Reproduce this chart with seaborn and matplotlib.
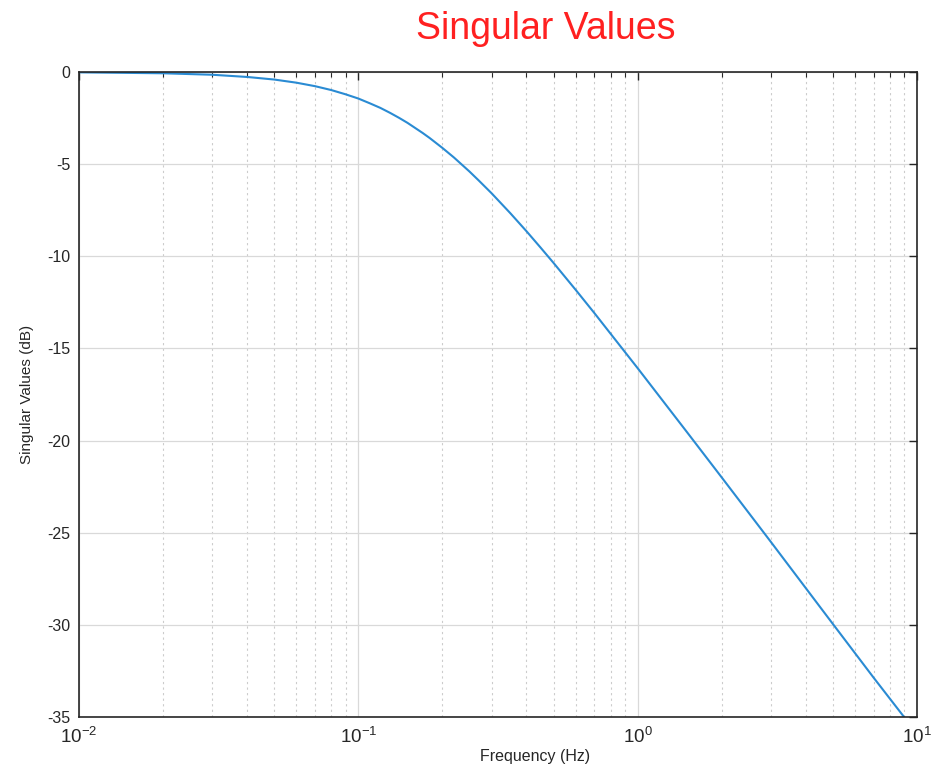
import numpy as np
import pandas as pd
import matplotlib
matplotlib.use("Agg")
import matplotlib.pyplot as plt
import seaborn as sns
from matplotlib.ticker import LogLocator, FixedLocator, NullFormatter

freq_hz = [0.01, 0.02, 0.03, 0.04, 0.05, 0.06, 0.07, 0.08, 0.09, 0.1, 0.11, 0.12, 0.13,
           0.14, 0.15, 0.17, 0.18, 0.2, 0.22, 0.25, 0.27, 0.3, 0.35, 0.4, 0.45, 0.5,
           0.6, 0.7, 0.8, 1.0, 1.5, 2.0, 3.0, 5.0, 7.0, 9.1]
sv_db = [-0.02, -0.07, -0.15, -0.27, -0.41, -0.58, -0.77, -0.98, -1.21, -1.44, -1.70,
         -1.95, -2.22, -2.49, -2.76, -3.31, -3.58, -4.12, -4.64, -5.40, -5.89, -6.58,
         -7.66, -8.64, -9.54, -10.36, -11.82, -13.08, -14.2, -16.07, -19.53, -22.0,
         -25.5, -29.95, -32.87, -35.1]
y_ticks = [0, -5, -10, -15, -20, -25, -30, -35]
x_ticks = [0.01, 0.1, 1, 10]

sns.set_style("white")
plt.rcParams['font.family'] = ['Liberation Sans', 'DejaVu Sans']

fig = plt.figure(figsize=(9.4, 7.74), dpi=100)
ax = fig.add_axes([0.084, 0.0736, 0.8915, 0.8334])

df = pd.DataFrame({"Frequency": freq_hz, "SV": sv_db})
sns.lineplot(data=df, x="Frequency", y="SV", ax=ax, color="#2a8bd3", linewidth=1.5)
ax.set_xscale("log")
ax.set_xlim(0.01, 10)
ax.set_ylim(-35, 0)
ax.set_yticks(y_ticks)
ax.set_yticklabels([str(v) for v in y_ticks])
ax.xaxis.set_major_locator(FixedLocator(x_ticks))
ax.xaxis.set_minor_locator(LogLocator(base=10, subs=np.arange(2, 10)))
ax.xaxis.set_minor_formatter(NullFormatter())

ax.grid(True, which="major", color="#d9d9d9", linewidth=0.9, linestyle="-")
ax.grid(True, which="minor", axis="x", color="#cccccc", linewidth=0.8, linestyle=(0, (2, 3)))
ax.set_axisbelow(True)

for s in ax.spines.values():
    s.set_color("#262626")
    s.set_linewidth(1.2)
ax.tick_params(which="both", direction="in", top=True, right=True, color="#262626")
ax.tick_params(which="major", length=6, width=1.0)
ax.tick_params(which="minor", length=3.5, width=0.8)
ax.tick_params(axis="y", labelsize=11.5, pad=6, labelcolor="#262626")
ax.tick_params(axis="x", labelsize=13.5, pad=7, labelcolor="#262626")

ax.set_xlabel("")
ax.set_ylabel("Singular Values (dB)", fontsize=11, color="#262626", labelpad=10)
fig.text(535/940, 1 - 757/774, "Frequency (Hz)", ha="center", va="center", fontsize=11.5, color="#262626")
fig.text(546/940, 1 - 29/774, "Singular Values", ha="center", va="center", fontsize=27, color="#ff2020")

fig.savefig("out.png", dpi=100, facecolor="white")
